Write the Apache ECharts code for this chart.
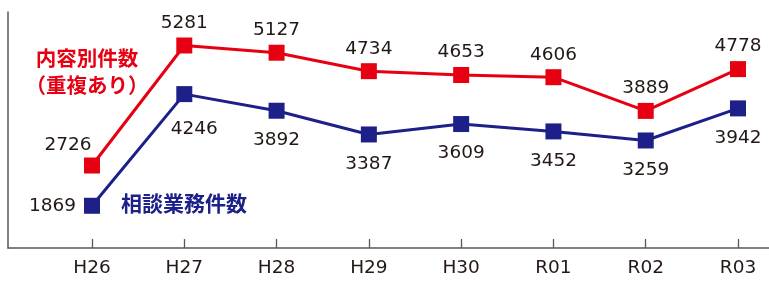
<!DOCTYPE html>
<html>
<head>
<meta charset="utf-8">
<script src="https://cdn.jsdelivr.net/npm/echarts@6/dist/echarts.min.js"></script>
<style>html,body{margin:0;padding:0;background:#fff}#c{width:769px;height:282px}</style>
</head>
<body>
<div id="c"></div>
<script>
const categories = ['H26','H27','H28','H29','H30','R01','R02','R03'];
const contentCounts = [2726,5281,5127,4734,4653,4606,3889,4778];
const consultCounts = [1869,4246,3892,3387,3609,3452,3259,3942];
const redName = '内容別件数\n（重複あり）';
const blueName = '相談業務件数';

const RED = '#e60012', NAVY = '#1d2088', TXT = '#231815', AX = '#595757';
const FONT = '"DejaVu Sans", "Noto Sans", sans-serif';
const CJK = '"Noto Sans CJK JP", sans-serif';

const redData = contentCounts.map((v, i) => {
  const d = { value: v };
  if (i === 0) d.label = { position: 'top', offset: [-24, 2] };
  return d;
});
const blueData = consultCounts.map((v, i) => {
  const d = { value: v };
  if (i === 0) d.label = { position: 'left', distance: 8 };
  if (i === 1) d.label = { offset: [10, 6] };
  return d;
});

const chart = echarts.init(document.getElementById('c'), null, { renderer: 'canvas' });
chart.setOption({
  animation: false,
  backgroundColor: '#fff',
  title: [
    { text: redName, left: 82, top: 40, textAlign: 'center',
      textStyle: { color: RED, fontFamily: CJK, fontWeight: 'bold', fontSize: 20.5, lineHeight: 27, align: 'center' } },
    { text: blueName, left: 116, top: 188,
      textStyle: { color: NAVY, fontFamily: CJK, fontWeight: 'bold', fontSize: 21 } }
  ],
  grid: [
    { left: 45.86, top: 12, width: 738.3, bottom: 34, outerBoundsMode: 'none', containLabel: false },
    { left: 8, right: 0, top: 12, bottom: 34, outerBoundsMode: 'none', containLabel: false }
  ],
  xAxis: [
    { type: 'category', gridIndex: 0, data: categories, boundaryGap: true,
      axisLine: { show: false },
      axisTick: { show: true, alignWithLabel: true, inside: true, length: 9, lineStyle: { color: AX, width: 1.3 } },
      axisLabel: { color: TXT, fontSize: 18.5, fontFamily: FONT, margin: 11 },
      splitLine: { show: false } },
    { type: 'value', gridIndex: 1, min: 0, max: 1,
      axisLine: { show: true, onZero: false, lineStyle: { color: AX, width: 1.5 } },
      axisTick: { show: false }, axisLabel: { show: false }, splitLine: { show: false } }
  ],
  yAxis: [
    { type: 'value', gridIndex: 0, min: 970, max: 5994, show: false, splitLine: { show: false } },
    { type: 'value', gridIndex: 1, min: 0, max: 1,
      axisLine: { show: true, onZero: false, lineStyle: { color: AX, width: 1.5 } },
      axisTick: { show: false }, axisLabel: { show: false }, splitLine: { show: false } }
  ],
  series: [
    { type: 'line', name: '内容別件数', xAxisIndex: 0, yAxisIndex: 0, data: redData,
      symbol: 'rect', symbolSize: 16, showAllSymbol: true,
      lineStyle: { color: RED, width: 3 }, itemStyle: { color: RED },
      label: { show: true, position: 'top', distance: 5, color: TXT, fontSize: 18.5, fontFamily: FONT } },
    { type: 'line', name: '相談業務件数', xAxisIndex: 0, yAxisIndex: 0, data: blueData,
      symbol: 'rect', symbolSize: 16, showAllSymbol: true,
      lineStyle: { color: NAVY, width: 3 }, itemStyle: { color: NAVY },
      label: { show: true, position: 'bottom', distance: 12, color: TXT, fontSize: 18.5, fontFamily: FONT } }
  ]
});
</script>
</body>
</html>
